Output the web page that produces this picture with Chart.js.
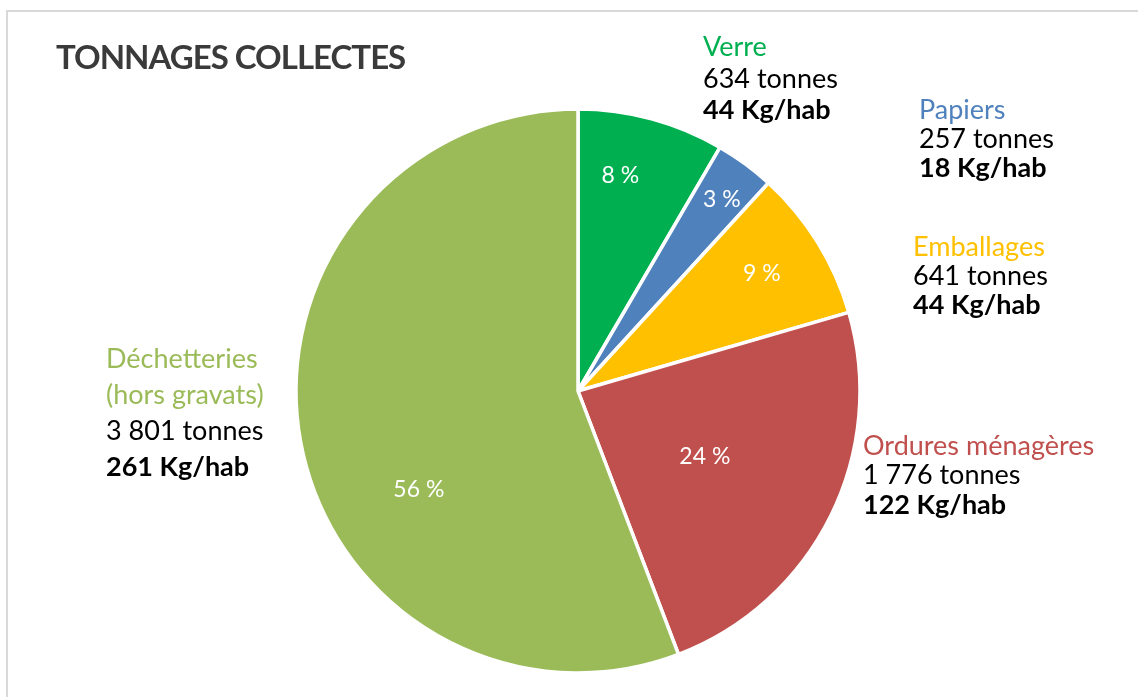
<!DOCTYPE html>
<html><head><meta charset="utf-8">
<script src="https://cdn.jsdelivr.net/npm/chart.js@4/dist/chart.umd.min.js"></script>
<style>
html,body{margin:0;padding:0;background:#fff;}
#wrap{position:relative;width:1138px;height:697px;overflow:hidden;background:#fff;}
#frame{position:absolute;left:6px;top:10px;width:1200px;height:760px;border-top:2px solid #d9d9d9;border-left:2px solid #d9d9d9;}
canvas{position:absolute;left:0;top:0;}
</style></head><body>
<div id="wrap"><div id="frame"></div><canvas id="c" width="1138" height="697"></canvas></div>
<script>
// ---- data ----
const categories = ['Verre', 'Papiers', 'Emballages', 'Ordures ménagères', 'Déchetteries (hors gravats)'];
const nameLines = [['Verre'], ['Papiers'], ['Emballages'], ['Ordures ménagères'], ['Déchetteries', '(hors gravats)']];
const shares = [8.4, 3.4, 8.7, 23.7, 55.8];
const tonnes = [634, 257, 641, 1776, 3801];
const kgPerHab = [44, 18, 44, 122, 261];
const title = 'TONNAGES COLLECTES';

// ---- styles / layout ----
const colors = ['#00B050', '#4F81BD', '#FFC000', '#C0504D', '#9BBB59'];
const FONT = 'Lato, "Open Sans", sans-serif';
// percent label placement: angle offset from slice middle (deg), fraction of radius
const pctLayout = [[-4.0, 0.778], [0.5, 0.85], [-0.8, 0.774], [1.0, 0.507], [-21.2, 0.663]];
// outer label block: left x & first baseline relative to pie centre, line height
const outLayout = [[125, -335, 31.6], [341, -272, 29], [335, -135, 29], [285, 64, 29.3], [-472, -23, 36]];

function fmtThousands(n) { return String(n).replace(/\B(?=(\d{3})+(?!\d))/g, '\u00a0'); }

const labelPlugin = {
  id: 'labels',
  afterDatasetsDraw(chart) {
    const ctx = chart.ctx;
    const meta = chart.getDatasetMeta(0);
    ctx.save();
    // title
    ctx.fillStyle = '#3a3a3a';
    ctx.font = 'bold 33px ' + FONT;
    ctx.textAlign = 'left';
    ctx.textBaseline = 'alphabetic';
    if ('letterSpacing' in ctx) ctx.letterSpacing = '-1px';
    ctx.fillText(title, 56, 69);
    if ('letterSpacing' in ctx) ctx.letterSpacing = '0px';
    const total = shares.reduce((a, b) => a + b, 0);
    meta.data.forEach((arc, i) => {
      const p = arc.getProps(['x', 'y', 'startAngle', 'endAngle', 'outerRadius'], true);
      const mid = (p.startAngle + p.endAngle) / 2 + pctLayout[i][0] * Math.PI / 180;
      const r = p.outerRadius * pctLayout[i][1];
      ctx.fillStyle = '#ffffff';
      ctx.font = '23px ' + FONT;
      ctx.textAlign = 'center';
      ctx.textBaseline = 'middle';
      ctx.fillText(Math.round(shares[i] / total * 100) + '\u00a0%', p.x + Math.cos(mid) * r, p.y + Math.sin(mid) * r);
      // outer block
      const [dx, dy, lh] = outLayout[i];
      let x = p.x + dx, y = p.y + dy;
      ctx.textAlign = 'left';
      ctx.textBaseline = 'alphabetic';
      ctx.font = '27px ' + FONT;
      ctx.fillStyle = colors[i];
      nameLines[i].forEach(t => { ctx.fillText(t, x, y); y += lh; });
      ctx.fillStyle = '#000000';
      ctx.fillText(fmtThousands(tonnes[i]) + ' tonnes', x, y); y += lh;
      ctx.font = 'bold 27px ' + FONT;
      ctx.fillText(kgPerHab[i] + ' Kg/hab', x, y);
    });
    ctx.restore();
  }
};

new Chart(document.getElementById('c'), {
  type: 'pie',
  data: {
    labels: categories,
    datasets: [{
      data: shares,
      backgroundColor: colors,
      borderColor: '#ffffff',
      borderWidth: 3.5,
      hoverOffset: 0
    }]
  },
  options: {
    responsive: false,
    animation: false,
    events: [],
    radius: 282,
    layout: { padding: { left: 18, top: 85, right: 0, bottom: 0 } },
    plugins: { legend: { display: false }, tooltip: { enabled: false }, title: { display: false } }
  },
  plugins: [labelPlugin]
});
</script>
</body></html>
